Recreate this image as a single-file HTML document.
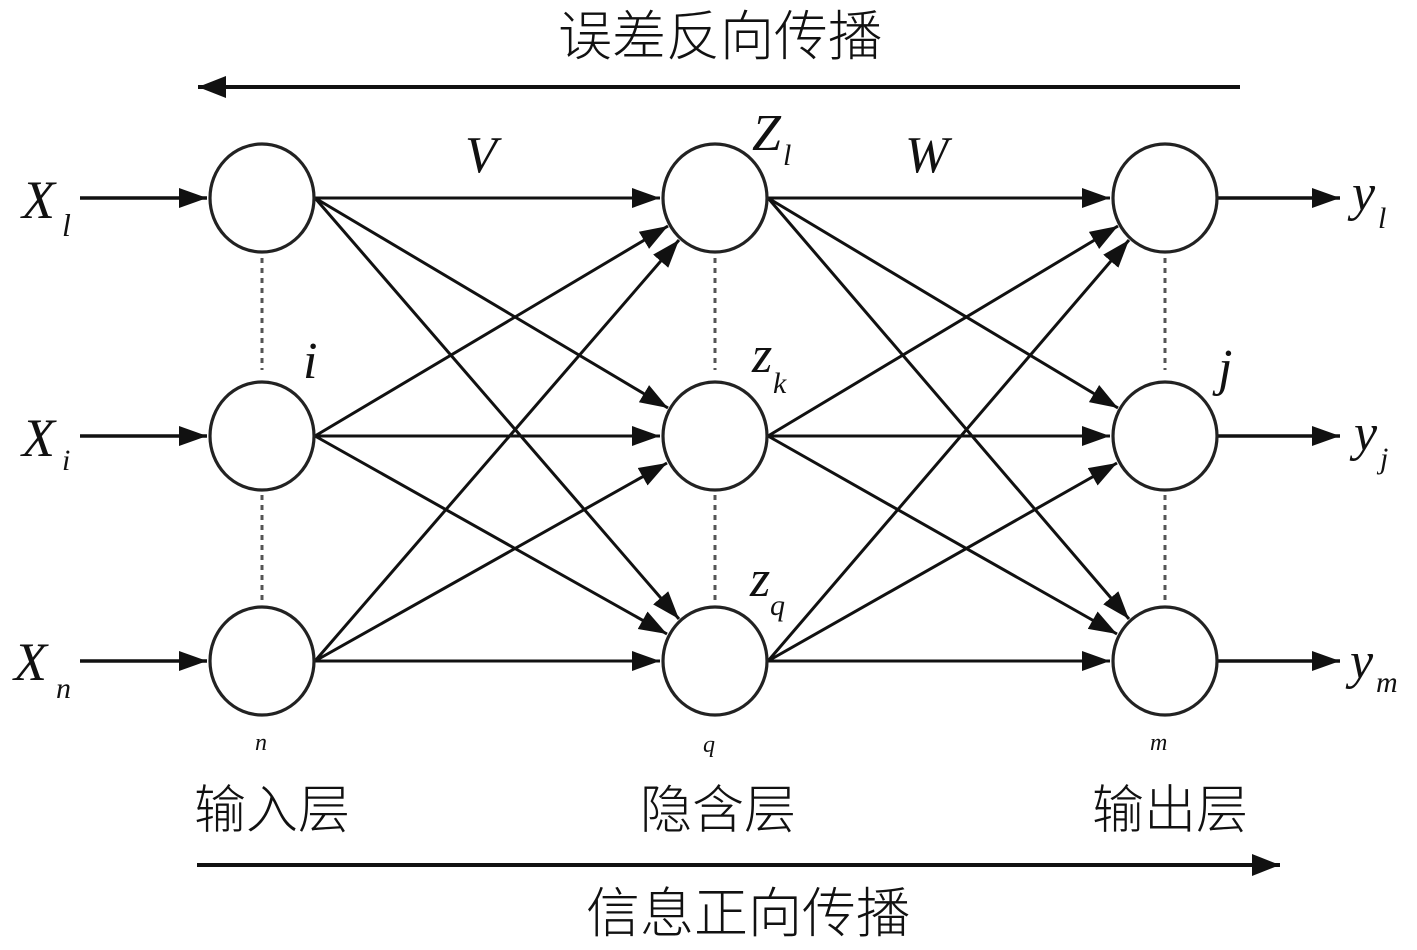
<!DOCTYPE html>
<html><head><meta charset="utf-8"><style>
html,body{margin:0;padding:0;background:#fff;}
svg{display:block}
.m{font-family:"Liberation Serif",serif;font-style:italic;fill:#111}
.c{font-family:"Liberation Sans","Noto Sans CJK SC",sans-serif;fill:#111;font-weight:300}
</style></head><body>
<svg width="1417" height="950" viewBox="0 0 1417 950" xmlns="http://www.w3.org/2000/svg">
<defs>
<marker id="a" markerUnits="userSpaceOnUse" markerWidth="30" markerHeight="22" refX="28" refY="11" orient="auto">
<path d="M0,1 L28,11 L0,21 Z" fill="#111"/>
</marker>
<marker id="b" markerUnits="userSpaceOnUse" markerWidth="30" markerHeight="24" refX="28" refY="12" orient="auto">
<path d="M0,1 L28,12 L0,23 Z" fill="#111"/>
</marker>
</defs>
<text class="c" x="720" y="55" font-size="54" text-anchor="middle">误差反向传播</text>
<line x1="1240" y1="87" x2="198" y2="87" stroke="#111" stroke-width="4" marker-end="url(#b)"/>
<text class="c" x="748" y="932" font-size="54" text-anchor="middle">信息正向传播</text>
<line x1="197" y1="865" x2="1280" y2="865" stroke="#111" stroke-width="4" marker-end="url(#b)"/>
<text class="c" x="272" y="828" font-size="52" text-anchor="middle">输入层</text>
<text class="c" x="718" y="828" font-size="52" text-anchor="middle">隐含层</text>
<text class="c" x="1170" y="828" font-size="52" text-anchor="middle">输出层</text>
<g stroke="#111" stroke-width="3.6" fill="none">
<line x1="80" y1="198" x2="207" y2="198" marker-end="url(#a)"/>
<line x1="80" y1="436" x2="207" y2="436" marker-end="url(#a)"/>
<line x1="80" y1="661" x2="207" y2="661" marker-end="url(#a)"/>
<line x1="1218" y1="198" x2="1340" y2="198" marker-end="url(#a)"/>
<line x1="1218" y1="436" x2="1340" y2="436" marker-end="url(#a)"/>
<line x1="1218" y1="661" x2="1340" y2="661" marker-end="url(#a)"/>
</g>
<g stroke="#111" stroke-width="3" fill="none">
<line x1="315" y1="198" x2="660" y2="198" marker-end="url(#a)"/>
<line x1="315" y1="198" x2="668" y2="408" marker-end="url(#a)"/>
<line x1="315" y1="198" x2="679" y2="619" marker-end="url(#a)"/>
<line x1="315" y1="436" x2="668" y2="226" marker-end="url(#a)"/>
<line x1="315" y1="436" x2="660" y2="436" marker-end="url(#a)"/>
<line x1="315" y1="436" x2="667" y2="634" marker-end="url(#a)"/>
<line x1="315" y1="661" x2="679" y2="240" marker-end="url(#a)"/>
<line x1="315" y1="661" x2="667" y2="463" marker-end="url(#a)"/>
<line x1="315" y1="661" x2="660" y2="661" marker-end="url(#a)"/>
<line x1="768" y1="198" x2="1110" y2="198" marker-end="url(#a)"/>
<line x1="768" y1="198" x2="1118" y2="408" marker-end="url(#a)"/>
<line x1="768" y1="198" x2="1129" y2="619" marker-end="url(#a)"/>
<line x1="768" y1="436" x2="1118" y2="226" marker-end="url(#a)"/>
<line x1="768" y1="436" x2="1110" y2="436" marker-end="url(#a)"/>
<line x1="768" y1="436" x2="1117" y2="634" marker-end="url(#a)"/>
<line x1="768" y1="661" x2="1129" y2="240" marker-end="url(#a)"/>
<line x1="768" y1="661" x2="1117" y2="463" marker-end="url(#a)"/>
<line x1="768" y1="661" x2="1110" y2="661" marker-end="url(#a)"/>
</g>
<g stroke="#555" stroke-width="3" stroke-dasharray="5,5" fill="none">
<line x1="262" y1="258" x2="262" y2="370"/><line x1="262" y1="495" x2="262" y2="600"/>
<line x1="715" y1="258" x2="715" y2="370"/><line x1="715" y1="495" x2="715" y2="600"/>
<line x1="1165" y1="258" x2="1165" y2="370"/><line x1="1165" y1="495" x2="1165" y2="600"/>
</g>
<g stroke="#222" stroke-width="3.2" fill="#fff">
<ellipse cx="262" cy="198" rx="52" ry="54"/><ellipse cx="262" cy="436" rx="52" ry="54"/><ellipse cx="262" cy="661" rx="52" ry="54"/>
<ellipse cx="715" cy="198" rx="52" ry="54"/><ellipse cx="715" cy="436" rx="52" ry="54"/><ellipse cx="715" cy="661" rx="52" ry="54"/>
<ellipse cx="1165" cy="198" rx="52" ry="54"/><ellipse cx="1165" cy="436" rx="52" ry="54"/><ellipse cx="1165" cy="661" rx="52" ry="54"/>
</g>
<text class="m" x="22" y="218" font-size="54">X</text><text class="m" x="62" y="236" font-size="32">l</text>
<text class="m" x="22" y="456" font-size="54">X</text><text class="m" x="62" y="470" font-size="30">i</text>
<text class="m" x="14" y="680" font-size="54">X</text><text class="m" x="56" y="698" font-size="30">n</text>
<text class="m" x="465" y="172" font-size="52">V</text>
<text class="m" x="752" y="150" font-size="52">Z</text><text class="m" x="783" y="165" font-size="30">l</text>
<text class="m" x="905" y="172" font-size="52">W</text>
<text class="m" x="303" y="378" font-size="52">i</text>
<text class="m" x="752" y="372" font-size="52">z</text><text class="m" x="773" y="393" font-size="30">k</text>
<text class="m" x="750" y="596" font-size="52">z</text><text class="m" x="770" y="615" font-size="30">q</text>
<text class="m" x="1218" y="385" font-size="52">j</text>
<text class="m" x="1352" y="210" font-size="52">y</text><text class="m" x="1378" y="228" font-size="30">l</text>
<text class="m" x="1354" y="450" font-size="52">y</text><text class="m" x="1380" y="468" font-size="30">j</text>
<text class="m" x="1350" y="678" font-size="52">y</text><text class="m" x="1376" y="692" font-size="30">m</text>
<text class="m" x="255" y="750" font-size="24">n</text>
<text class="m" x="703" y="752" font-size="24">q</text>
<text class="m" x="1150" y="750" font-size="24">m</text>
</svg>
</body></html>
